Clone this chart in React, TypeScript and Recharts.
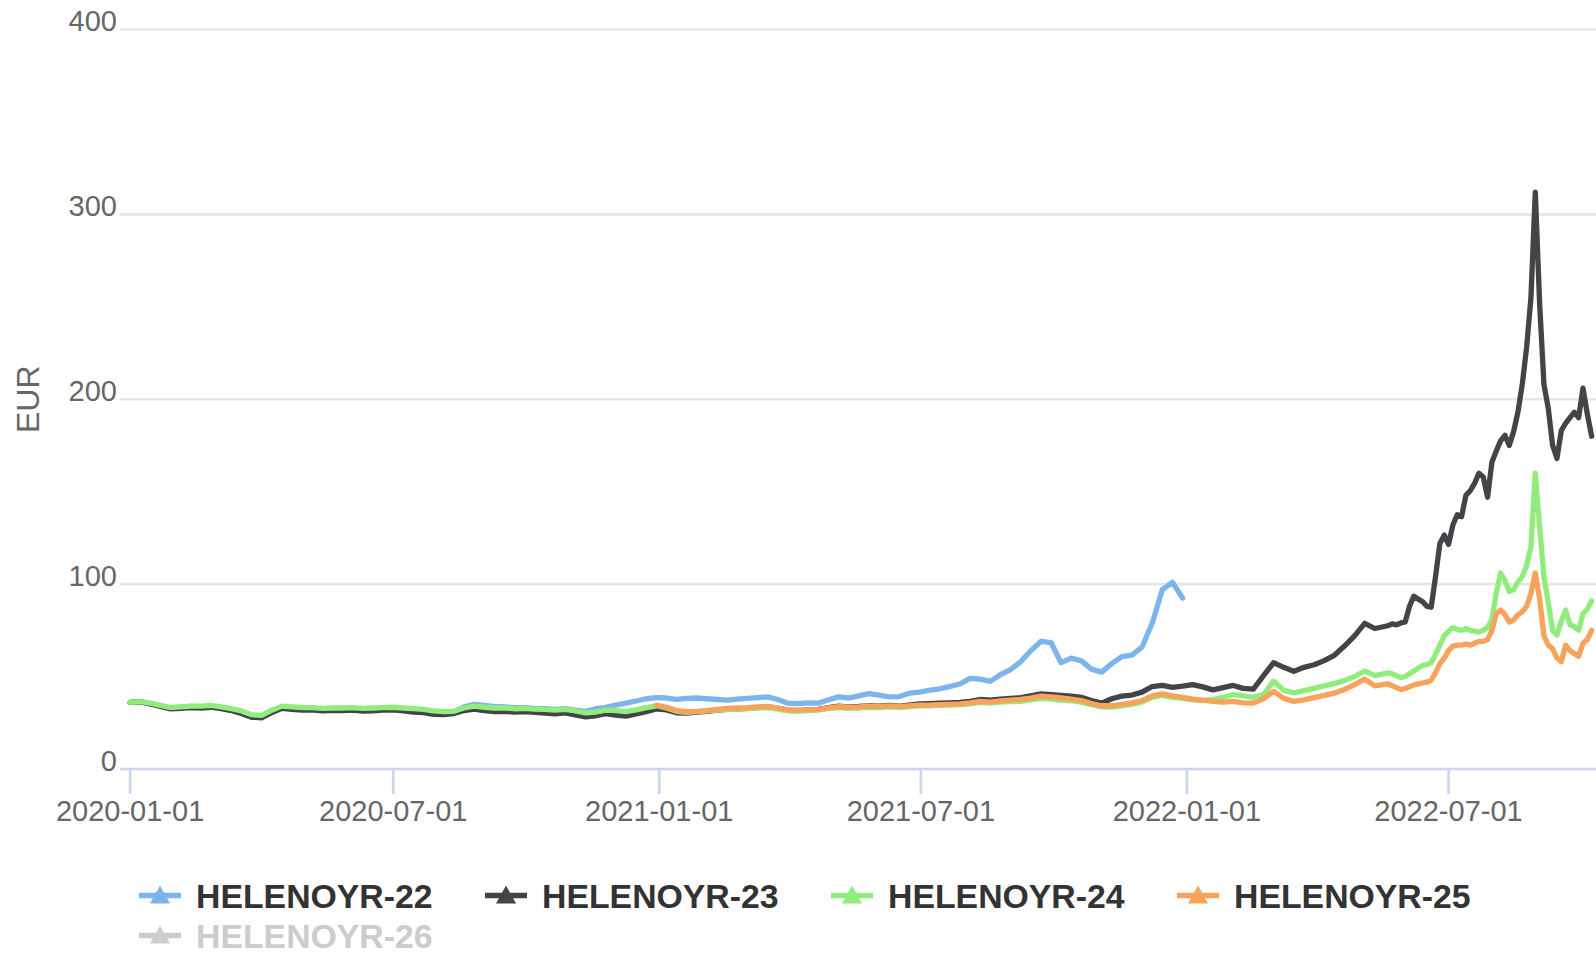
import React from 'react';
import { LineChart, Line, XAxis, YAxis, CartesianGrid, Label } from 'recharts';

const seriesNames = ['HELENOYR-22', 'HELENOYR-23', 'HELENOYR-24', 'HELENOYR-25', 'HELENOYR-26'];
const seriesColors = ['#7cb5ec', '#434348', '#90ed7d', '#f7a35c', '#cccccc'];
const hiddenSeries = ['HELENOYR-26'];

const tickDates = ['2020-01-01', '2020-07-01', '2021-01-01', '2021-07-01', '2022-01-01', '2022-07-01'];
const yTicks = [0, 100, 200, 300, 400];
const xRange = ['2019-12-25', '2022-10-11'];

// sampling: weekly from 2020-01-01 (124 points), then every 3 days from 2022-05-20 (48 points)
const weeklyStart = '2020-01-01';
const weeklyCount = 124;
const denseStart = '2022-05-20';
const denseCount = 48;

// HELENOYR-22, weekly from 2020-01-01, ends late Dec 2021
const v22 = [
  36.0, 36.4, 35.4, 34.2, 33.0, 33.4, 33.8, 33.6, 34.0, 33.0,
  31.8, 30.2, 28.2, 27.6, 30.8, 33.2, 32.6, 32.2, 32.4, 31.8,
  32.0, 32.0, 32.2, 31.8, 32.0, 32.4, 32.6, 32.2, 31.8, 31.4,
  30.6, 30.4, 31.0, 33.6, 35.0, 34.4, 33.8, 33.6, 33.2, 33.2,
  32.8, 32.6, 32.2, 32.6, 31.8, 31.2, 32.6, 33.4, 34.6, 35.6,
  36.8, 38.0, 38.6, 38.4, 37.6, 38.2, 38.4, 38.0, 37.6, 37.2,
  37.8, 38.2, 38.6, 39.0, 37.6, 35.6, 35.4, 35.8, 35.6, 37.4,
  39.0, 38.4, 39.6, 40.8, 40.0, 39.0, 39.2, 41.0, 41.6, 42.6,
  43.4, 44.6, 46.0, 49.0, 48.6, 47.4, 51.0, 53.8, 58.0, 64.0,
  69.0, 68.4, 57.5, 60.0, 58.5, 54.0, 52.4, 57.0, 60.8, 61.6,
  66.0, 78.8, 97.0, 101.0, 92.5,
];

// HELENOYR-23
const v23 = [
  36.0, 36.3, 35.2, 33.8, 32.5, 32.8, 33.2, 33.0, 33.4, 32.6,
  31.6, 30.0, 28.0, 27.8, 30.5, 32.8, 32.2, 31.8, 32.0, 31.5,
  31.7, 31.6, 31.9, 31.3, 31.5, 31.8, 32.0, 31.4, 30.8, 30.5,
  29.6, 29.4, 30.0, 31.6, 32.4, 31.6, 31.0, 31.2, 30.8, 31.0,
  30.6, 30.2, 29.8, 30.4, 29.2, 28.2, 28.8, 30.0, 29.2, 28.6,
  29.8, 31.0, 32.5, 32.0, 30.4, 30.2, 30.8, 31.2, 31.8, 32.2,
  32.6, 32.8, 33.2, 33.6, 32.8, 31.8, 31.6, 32.0, 32.2, 33.2,
  34.0, 33.6, 33.8, 34.2, 34.0, 34.4, 34.0, 34.6, 35.2, 35.4,
  35.6, 35.8, 36.0, 36.6, 37.6, 37.2, 37.8, 38.2, 38.6, 39.6,
  40.6, 40.2, 39.8, 39.4, 38.8, 37.0, 35.6, 38.0, 39.4, 40.0,
  41.6, 44.6, 45.2, 44.2, 44.8, 45.6, 44.4, 42.8, 44.0, 45.2,
  43.6, 43.2, 50.5, 57.5, 55.0, 52.8, 55.0, 56.4, 58.6, 61.5,
  66.5, 72.0, 78.8, 76.0,
  77.5, 78.5, 78.0, 79.0, 79.5, 88.0, 93.5, 92.0, 90.5, 88.0,
  87.5, 104.0, 122.0, 126.5, 121.5, 132.0, 137.5, 136.5, 148.0, 150.5,
  154.5, 160.0, 158.0, 147.0, 166.0, 172.0, 177.5, 180.5, 175.0, 182.5,
  193.0, 208.0, 228.0, 255.0, 312.0, 252.0, 208.0, 195.0, 175.0, 168.0,
  183.0, 187.0, 190.0, 193.0, 190.0, 206.0, 192.0, 180.0,
];

// HELENOYR-24
const v24 = [
  36.0, 36.5, 35.6, 34.4, 33.2, 33.6, 34.0, 34.0, 34.4, 33.6,
  32.6, 31.4, 29.4, 29.0, 31.8, 34.0, 33.6, 33.2, 33.2, 32.8,
  33.0, 33.0, 33.2, 32.8, 33.0, 33.2, 33.4, 33.0, 32.6, 32.2,
  31.4, 31.0, 31.2, 33.0, 34.0, 33.4, 33.0, 33.0, 32.6, 32.8,
  32.4, 32.2, 31.8, 32.2, 31.4, 30.4, 30.8, 31.8, 31.6, 31.0,
  32.0, 33.2, 34.2, 33.0, 31.2, 30.6, 31.0, 31.4, 31.8, 32.2,
  32.4, 32.6, 33.0, 33.2, 32.4, 31.4, 31.2, 31.6, 31.8, 32.6,
  33.2, 32.8, 33.0, 33.4, 33.2, 33.6, 33.2, 33.8, 34.2, 34.2,
  34.4, 34.6, 34.8, 35.2, 36.0, 35.6, 36.2, 36.4, 36.6, 37.4,
  38.2, 37.8, 37.2, 36.8, 36.2, 34.8, 33.6, 33.4, 34.2, 35.0,
  36.2, 38.8, 39.8, 38.8, 38.2, 37.4, 37.0, 37.6, 38.8, 40.2,
  39.6, 38.8, 40.2, 47.5, 42.5, 41.2, 42.4, 43.6, 45.0, 46.2,
  47.8, 50.0, 53.0, 50.5,
  52.0, 51.5, 50.5, 49.5, 50.0, 51.5, 53.0, 54.5, 56.0, 56.5,
  57.5, 62.0, 67.0, 72.0, 74.5, 76.5, 75.5, 75.0, 76.0, 75.0,
  74.5, 74.0, 75.0, 76.5, 81.0, 95.0, 106.0, 102.0, 96.0, 97.0,
  101.0, 104.0, 110.0, 120.0, 160.0, 131.0, 104.0, 90.0, 75.0, 72.5,
  80.0, 86.0, 78.0, 77.0, 75.0, 84.0, 86.5, 91.0,
];

// HELENOYR-25, starts with the sample of 2020-12-30 (index 52)
const start25 = 52;
const v25 = [
  34.5, 33.4, 31.6, 31.0, 31.2, 31.6, 32.2, 32.8, 33.0, 33.2,
  33.6, 33.8, 33.0, 32.0, 31.8, 32.0, 32.2, 33.0, 33.8, 33.4,
  33.6, 34.0, 33.8, 34.2, 33.8, 34.2, 34.6, 34.6, 34.8, 35.0,
  35.2, 35.8, 36.6, 36.2, 36.8, 37.2, 37.6, 38.4, 39.4, 39.0,
  38.4, 37.8, 37.0, 35.4, 34.2, 34.2, 35.0, 35.8, 37.0, 39.6,
  40.6, 39.6, 38.8, 37.8, 37.2, 36.6, 36.2, 36.6, 35.8, 35.6,
  38.0, 42.0, 38.2, 36.6, 37.4, 38.6, 39.8, 41.0, 43.0, 45.6,
  48.6, 45.0,
  46.0, 45.0, 44.0, 43.0, 43.5, 44.5, 45.5, 46.0, 46.5, 47.0,
  48.0, 52.0, 57.0, 60.0, 64.0, 66.5, 67.0, 67.0, 67.5, 67.0,
  68.0, 69.0, 69.0, 70.0, 75.0, 84.0, 86.0, 83.5, 79.5, 80.5,
  83.5, 85.0, 88.0, 95.0, 106.0, 92.0, 72.0, 67.0, 65.0, 60.0,
  58.0, 67.0, 64.0, 62.5, 61.0, 68.0, 70.0, 75.0,
];

const DAY = 86400000;
const dates: number[] = [
  ...Array.from({ length: weeklyCount }, (_, i) => Date.parse(weeklyStart) + i * 7 * DAY),
  ...Array.from({ length: denseCount }, (_, i) => Date.parse(denseStart) + i * 3 * DAY),
];

const data = dates.map((t, i) => ({
  t,
  s22: v22[i] ?? null,
  s23: v23[i] ?? null,
  s24: v24[i] ?? null,
  s25: i >= start25 ? v25[i - start25] ?? null : null,
}));

const lineKeys = ['s22', 's23', 's24', 's25'];
const FONT = '"Liberation Sans", Arial, Helvetica, sans-serif';

const fmtDate = (v: number) => new Date(v).toISOString().slice(0, 10);

const XTick = (props: any) => {
  const { x, y, payload } = props;
  return (
    <text x={x} y={y} dy={27} textAnchor="middle" fill="#666666" fontSize={29} fontFamily={FONT}>
      {fmtDate(payload.value)}
    </text>
  );
};

const YTick = (props: any) => {
  const { x, y, payload } = props;
  return (
    <text x={x} y={y} dy={1.5} textAnchor="end" fill="#666666" fontSize={29} fontFamily={FONT}>
      {payload.value}
    </text>
  );
};

const renderAxisTitle = (props: any) => {
  const vb = props.viewBox;
  const cx = vb.x + 28;
  const cy = vb.y + vb.height / 2;
  return (
    <text
      x={cx}
      y={cy}
      transform={`rotate(-90 ${cx} ${cy})`}
      textAnchor="middle"
      dominantBaseline="central"
      fill="#666666"
      fontSize={32}
      fontFamily={FONT}
    >
      EUR
    </text>
  );
};

function ChartLegend() {
  const perRow = 4;
  const stride = 346;
  return (
    <svg width={1596} height={120} style={{ position: 'absolute', left: 0, top: 850 }}>
      {seriesNames.map((name, i) => {
        const hidden = hiddenSeries.includes(name);
        const color = hidden ? '#cccccc' : seriesColors[i];
        const x = 139 + (i % perRow) * stride;
        const cy = 45.5 + Math.floor(i / perRow) * 40;
        return (
          <g key={name}>
            <line x1={x} x2={x + 42} y1={cy} y2={cy} stroke={color} strokeWidth={5.3} />
            <path d={`M ${x + 21} ${cy - 10} L ${x + 31} ${cy + 8} L ${x + 11} ${cy + 8} Z`} fill={color} />
            <text
              x={x + 57}
              y={cy}
              dy={12}
              fill={hidden ? '#cccccc' : '#333333'}
              fontSize={33.8}
              fontWeight="bold"
              fontFamily={FONT}
            >
              {name}
            </text>
          </g>
        );
      })}
    </svg>
  );
}

export default function App() {
  return (
    <div style={{ position: 'absolute', left: 0, top: 0, width: 1596, height: 953, background: '#ffffff', overflow: 'hidden' }}>
      <LineChart width={1596} height={953} data={data} margin={{ top: 29.5, right: 0, bottom: 0, left: 0 }}>
        <CartesianGrid vertical={false} stroke="#e6e6e6" strokeWidth={2.7} />
        <XAxis
          dataKey="t"
          type="number"
          domain={[Date.parse(xRange[0]), Date.parse(xRange[1])]}
          allowDataOverflow
          ticks={tickDates.map((d) => Date.parse(d))}
          tick={<XTick />}
          height={184}
          tickSize={25}
          tickMargin={0}
          axisLine={{ stroke: '#ccd6eb', strokeWidth: 2.7 }}
          tickLine={{ stroke: '#ccd6eb', strokeWidth: 2.7 }}
        />
        <YAxis
          domain={[0, 400]}
          ticks={yTicks}
          width={120}
          axisLine={false}
          tickLine={false}
          tickSize={0}
          tickMargin={3}
          tick={<YTick />}
        >
          <Label content={renderAxisTitle} />
        </YAxis>
        {lineKeys.map((k, i) => (
          <Line
            key={k}
            dataKey={k}
            name={seriesNames[i]}
            type="linear"
            stroke={seriesColors[i]}
            strokeWidth={5.3}
            strokeLinejoin="round"
            strokeLinecap="round"
            dot={false}
            activeDot={false}
            isAnimationActive={false}
          />
        ))}
      </LineChart>
      <ChartLegend />
    </div>
  );
}
